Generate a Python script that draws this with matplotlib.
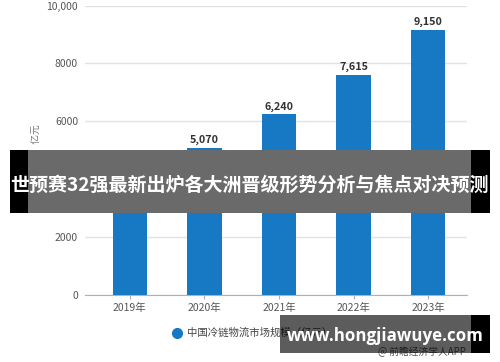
import matplotlib
matplotlib.use("Agg")
import matplotlib.pyplot as plt
from matplotlib.patches import Rectangle
from matplotlib.lines import Line2D

plt.rcParams['font.family'] = ['Noto Sans CJK SC', 'DejaVu Sans']

years = ["2019年", "2020年", "2021年", "2022年", "2023年"]
values = [4095, 5070, 6240, 7615, 9150]
value_labels = ["4,095", "5,070", "6,240", "7,615", "9,150"]
yticks = [0, 2000, 4000, 6000, 8000, 10000]
ytick_labels = ["0", "2000", "4000", "6000", "8000", "10,000"]
legend_label = "中国冷链物流市场规模（亿元）"
ylabel = "单位：亿元"
banner_text = "世预赛32强最新出炉各大洲晋级形势分析与焦点对决预测"
watermark = "www.hongjiawuye.com"
source = "@ 前瞻经济学人APP"

W, H = 500, 362
fig = plt.figure(figsize=(W / 100, H / 100), dpi=100)
fig.patch.set_facecolor("white")

def fx(px):
    return px / W

def fy(py):
    return 1 - py / H

ax = fig.add_axes([fx(85), fy(295), (467 - 85) / W, (295 - 5.5) / H])
x = list(range(len(years)))
ax.bar(x, values, width=0.46, color="#1778c4", zorder=3)
ax.set_xlim(-0.6, 4.52)
ax.set_ylim(0, 10000)
ax.set_yticks(yticks)
ax.set_yticklabels(ytick_labels)
ax.set_xticks(x)
ax.set_xticklabels(years)
ax.grid(axis="y", color="#e2e2e2", linewidth=1.0, zorder=0)
for s in ["top", "right", "left"]:
    ax.spines[s].set_visible(False)
ax.spines["bottom"].set_color("#b0b0b0")
ax.tick_params(axis="y", length=0, pad=5, labelsize=7.5, labelcolor="#555555")
ax.tick_params(axis="x", length=3, color="#b0b0b0", pad=3, labelsize=7.5, labelcolor="#555555")
for xi, v, lab in zip(x, values, value_labels):
    ax.annotate(lab, (xi, v), xytext=(0, 2), textcoords="offset points",
                ha="center", va="bottom", fontsize=7.8, fontweight="bold", color="#333333")

fig.text(fx(35), fy(148), ylabel, rotation=90, ha="center", va="center",
         fontsize=7, color="#777777")

# legend
fig.add_artist(Line2D([fx(177)], [fy(333)], marker="o", markersize=7,
                      color="#1778c4", linestyle="none", transform=fig.transFigure))
fig.text(fx(187), fy(333), legend_label, ha="left", va="center", fontsize=7.5, color="#444444")
fig.text(fx(466), fy(352), source, ha="right", va="center", fontsize=7, color="#555555")

# banner overlay
fig.add_artist(Rectangle((fx(10), fy(212.7)), (490 - 10) / W, (212.7 - 150) / H,
                         transform=fig.transFigure, facecolor="black", edgecolor="none", zorder=10))
fig.add_artist(Rectangle((fx(28), fy(212.7)), (471 - 28) / W, (212.7 - 150) / H,
                         transform=fig.transFigure, facecolor="white", edgecolor="none", alpha=0.42, zorder=10))
fig.text(fx(249), fy(185), banner_text, ha="center", va="center", fontsize=13.7,
         fontweight="bold", color="white", zorder=11)

# watermark box
fig.add_artist(Rectangle((fx(280), fy(352.7)), (471 - 280) / W, (352.7 - 315) / H,
                         transform=fig.transFigure, facecolor="black", edgecolor="none", alpha=0.64, zorder=10))
fig.add_artist(Rectangle((fx(471), fy(352.7)), (490 - 471) / W, (352.7 - 315) / H,
                         transform=fig.transFigure, facecolor="black", edgecolor="none", zorder=10))
fig.text(fx(385), fy(336), watermark, ha="center", va="center", fontsize=12.2,
         fontweight="bold", color="white", family=["Open Sans", "DejaVu Sans"], zorder=11)

fig.savefig("out.png", dpi=100)
